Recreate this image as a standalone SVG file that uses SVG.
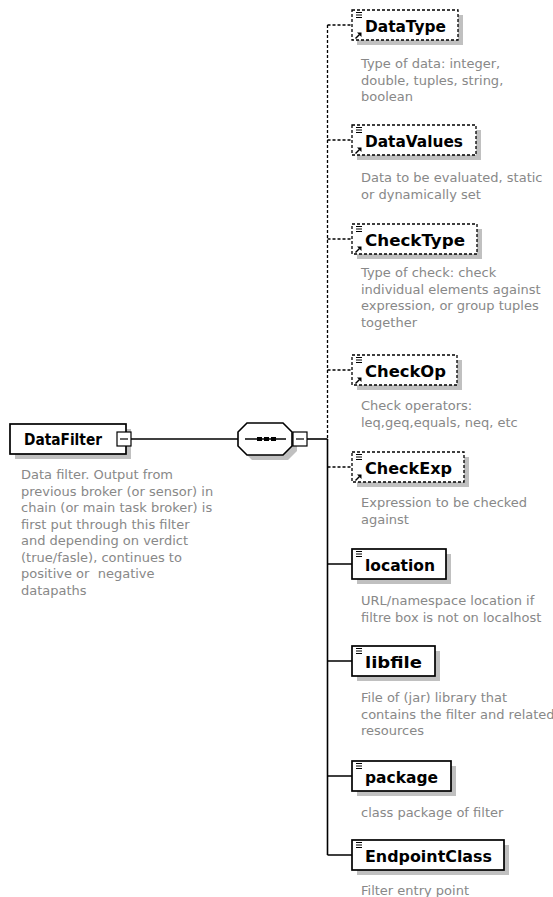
<svg xmlns="http://www.w3.org/2000/svg" xmlns:xlink="http://www.w3.org/1999/xlink" width="553" height="897" viewBox="0 0 553 897">
  <style>
    .box{fill:#fff;stroke:#000;stroke-width:1.7}
    .ref{fill:#fff;stroke:#000;stroke-width:1.3;stroke-dasharray:3 2}
    .shadow{fill:#c0c0c0;stroke:none}
    .lbl{font-family:"DejaVu Sans",Verdana,sans-serif;font-weight:bold;font-size:16px;fill:#000}
    .doc{font-family:"DejaVu Sans",Verdana,sans-serif;font-size:13px;fill:#888}
    .solid{stroke:#000;stroke-width:1.6;fill:none}
    .dash{stroke:#000;stroke-width:1.3;stroke-dasharray:3 2;fill:none}
    .pm{fill:#fff;stroke:#000;stroke-width:1.2}
  </style>
  <defs>
    <!-- documentation marker: three short lines -->
    <g id="docicon">
      <path d="M0 0.5h6M0 3h6M0 5.5h6" stroke="#000" stroke-width="1" fill="none"/>
    </g>
    <!-- reference marker: small up-right arrow -->
    <g id="refarrow">
      <path d="M0.5 6.5L4.5 2.5" stroke="#000" stroke-width="1.5" fill="none"/>
      <path d="M2 0.5H6.5V5Z" fill="#000"/>
    </g>
  </defs>

  <rect width="553" height="897" fill="#fff"/>

  <!-- connectors -->
  <g id="connectors">
    <path class="solid" d="M131 439H238"/>
    <path class="solid" d="M307 439H327.5"/>
    <path class="dash" d="M327.5 25V439"/>
    <path class="solid" d="M327.5 439V855"/>
    <path class="dash" d="M327.5 25H352M327.5 140H352M327.5 239H352M327.5 370H352M327.5 467H352"/>
    <path class="solid" d="M327.5 564H352M327.5 661H352M327.5 776H352M327.5 855H352"/>
  </g>

  <!-- root element -->
  <g id="DataFilter">
    <rect class="shadow" x="15" y="429" width="116" height="30"/>
    <rect class="box" x="10" y="424" width="116" height="30"/>
    <text class="lbl" x="24" y="445" textLength="78" lengthAdjust="spacingAndGlyphs">DataFilter</text>
    <rect class="pm" x="117" y="432" width="14" height="14"/>
    <path d="M120 439H128" stroke="#000" stroke-width="1.2"/>
    <text class="doc">
      <tspan x="21" y="479">Data filter. Output from</tspan>
      <tspan x="21" y="495.5">previous broker (or sensor) in</tspan>
      <tspan x="21" y="512">chain (or main task broker) is</tspan>
      <tspan x="21" y="528.5">first put through this filter</tspan>
      <tspan x="21" y="545">and depending on verdict</tspan>
      <tspan x="21" y="561.5">(true/fasle), continues to</tspan>
      <tspan x="21" y="578">positive or&#160; negative</tspan>
      <tspan x="21" y="594.5">datapaths</tspan>
    </text>
  </g>

  <!-- sequence compositor -->
  <g id="sequence">
    <polygon class="shadow" points="252,428 288,428 297,437 297,451 288,460 252,460 243,451 243,437"/>
    <polygon points="247,423 283,423 292,432 292,446 283,455 247,455 238,446 238,432" fill="#fff" stroke="#000" stroke-width="1.6"/>
    <path d="M245 439H286" stroke="#000" stroke-width="1.5"/>
    <rect x="257" y="437" width="5" height="4" fill="#000"/>
    <rect x="264" y="437" width="5" height="4" fill="#000"/>
    <rect x="271" y="437" width="5" height="4" fill="#000"/>
    <rect class="pm" x="293" y="432" width="14" height="14"/>
    <path d="M296 439H304" stroke="#000" stroke-width="1.2"/>
  </g>

  <g id="DataType">
    <rect class="shadow" x="357" y="15" width="106" height="30"/>
    <rect class="ref" x="352" y="10" width="106" height="30"/>
    <use xlink:href="#docicon" x="356" y="12"/>
    <use xlink:href="#refarrow" x="355" y="32"/>
    <text class="lbl" x="365" y="31.5" textLength="81" lengthAdjust="spacingAndGlyphs">DataType</text>
    <text class="doc">
      <tspan x="361" y="68">Type of data: integer,</tspan>
      <tspan x="361" y="84.5">double, tuples, string,</tspan>
      <tspan x="361" y="101">boolean</tspan>
    </text>
  </g>

  <g id="DataValues">
    <rect class="shadow" x="357" y="130" width="124" height="30"/>
    <rect class="ref" x="352" y="125" width="124" height="30"/>
    <use xlink:href="#docicon" x="356" y="127"/>
    <use xlink:href="#refarrow" x="355" y="147"/>
    <text class="lbl" x="365" y="146.5" textLength="98" lengthAdjust="spacingAndGlyphs">DataValues</text>
    <text class="doc">
      <tspan x="361" y="182">Data to be evaluated, static</tspan>
      <tspan x="361" y="198.5">or dynamically set</tspan>
    </text>
  </g>

  <g id="CheckType">
    <rect class="shadow" x="357" y="229" width="125" height="30"/>
    <rect class="ref" x="352" y="224" width="125" height="30"/>
    <use xlink:href="#docicon" x="356" y="226"/>
    <use xlink:href="#refarrow" x="355" y="246"/>
    <text class="lbl" x="365" y="245.5" textLength="100" lengthAdjust="spacingAndGlyphs">CheckType</text>
    <text class="doc">
      <tspan x="361" y="277">Type of check: check</tspan>
      <tspan x="361" y="293.5">individual elements against</tspan>
      <tspan x="361" y="310">expression, or group tuples</tspan>
      <tspan x="361" y="326.5">together</tspan>
    </text>
  </g>

  <g id="CheckOp">
    <rect class="shadow" x="357" y="360" width="105" height="30"/>
    <rect class="ref" x="352" y="355" width="105" height="30"/>
    <use xlink:href="#docicon" x="356" y="357"/>
    <use xlink:href="#refarrow" x="355" y="377"/>
    <text class="lbl" x="365" y="376.5" textLength="81" lengthAdjust="spacingAndGlyphs">CheckOp</text>
    <text class="doc">
      <tspan x="361" y="410">Check operators:</tspan>
      <tspan x="361" y="426.5">leq,geq,equals, neq, etc</tspan>
    </text>
  </g>

  <g id="CheckExp">
    <rect class="shadow" x="357" y="457" width="112" height="30"/>
    <rect class="ref" x="352" y="452" width="112" height="30"/>
    <use xlink:href="#docicon" x="356" y="454"/>
    <use xlink:href="#refarrow" x="355" y="474"/>
    <text class="lbl" x="365" y="473.5" textLength="87" lengthAdjust="spacingAndGlyphs">CheckExp</text>
    <text class="doc">
      <tspan x="361" y="507">Expression to be checked</tspan>
      <tspan x="361" y="523.5">against</tspan>
    </text>
  </g>

  <g id="location">
    <rect class="shadow" x="357" y="554" width="94" height="30"/>
    <rect class="box" x="352" y="549" width="94" height="30"/>
    <use xlink:href="#docicon" x="356" y="551"/>
    <text class="lbl" x="365" y="570.5" textLength="70" lengthAdjust="spacingAndGlyphs">location</text>
    <text class="doc">
      <tspan x="361" y="605">URL/namespace location if</tspan>
      <tspan x="361" y="621.5">filtre box is not on localhost</tspan>
    </text>
  </g>

  <g id="libfile">
    <rect class="shadow" x="357" y="651" width="83" height="30"/>
    <rect class="box" x="352" y="646" width="83" height="30"/>
    <use xlink:href="#docicon" x="356" y="648"/>
    <text class="lbl" x="365" y="667.5" textLength="57" lengthAdjust="spacingAndGlyphs">libfile</text>
    <text class="doc">
      <tspan x="361" y="702">File of (jar) library that</tspan>
      <tspan x="361" y="718.5">contains the filter and related</tspan>
      <tspan x="361" y="735">resources</tspan>
    </text>
  </g>

  <g id="package">
    <rect class="shadow" x="357" y="766" width="99" height="30"/>
    <rect class="box" x="352" y="761" width="99" height="30"/>
    <use xlink:href="#docicon" x="356" y="763"/>
    <text class="lbl" x="365" y="782.5" textLength="73" lengthAdjust="spacingAndGlyphs">package</text>
    <text class="doc">
      <tspan x="361" y="817">class package of filter</tspan>
    </text>
  </g>

  <g id="EndpointClass">
    <rect class="shadow" x="357" y="845" width="152" height="30"/>
    <rect class="box" x="352" y="840" width="152" height="30"/>
    <use xlink:href="#docicon" x="356" y="842"/>
    <text class="lbl" x="365" y="861.5" textLength="127" lengthAdjust="spacingAndGlyphs">EndpointClass</text>
    <text class="doc">
      <tspan x="361" y="895">Filter entry point</tspan>
    </text>
  </g>
</svg>
